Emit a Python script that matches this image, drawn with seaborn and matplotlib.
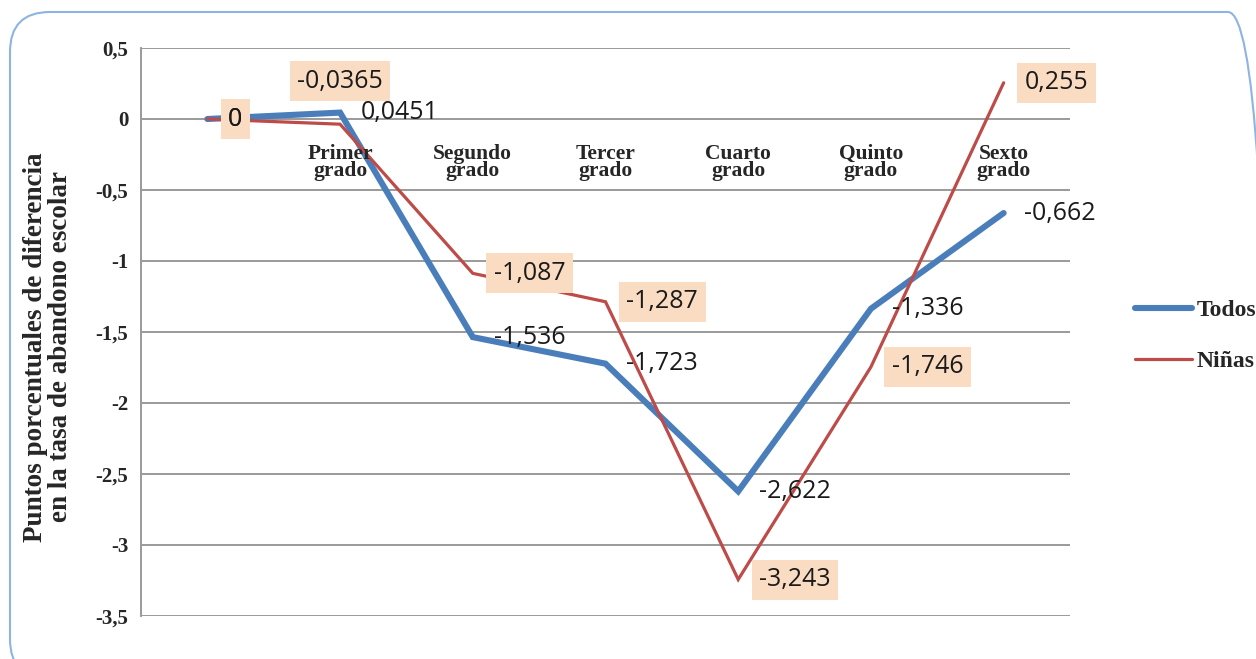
import matplotlib
matplotlib.use("Agg")
import matplotlib.pyplot as plt
import seaborn as sns
import pandas as pd
from matplotlib.patches import FancyBboxPatch
from matplotlib.transforms import IdentityTransform

# Data: difference in school-dropout rate (percentage points) by grade
grados = ["", "Primer\ngrado", "Segundo\ngrado", "Tercer\ngrado",
          "Cuarto\ngrado", "Quinto\ngrado", "Sexto\ngrado"]
todos = [0, 0.0451, -1.536, -1.723, -2.622, -1.336, -0.662]
ninas = [0, -0.0365, -1.087, -1.287, -3.243, -1.746, 0.255]
series = ["Todos", "Niñas"]
y_ticks = [0.5, 0, -0.5, -1, -1.5, -2, -2.5, -3, -3.5]
y_title = "Puntos porcentuales de diferencia\nen la tasa de abandono escolar"

colors = {"Todos": "#4A7EBB", "Niñas": "#BE4B48"}
widths = {"Todos": 4.4, "Niñas": 2.3}
box_color = "#FADCC3"
grid_color = "#9A9A9A"

sns.set_theme(style="white")
plt.rcParams["font.family"] = ["Liberation Serif", "DejaVu Serif"]
plt.rcParams["axes.unicode_minus"] = False

df = pd.DataFrame({
    "pos": list(range(len(grados))) * 2,
    "valor": todos + ninas,
    "serie": ["Todos"] * len(todos) + ["Niñas"] * len(ninas),
})

W, H = 1256, 659
fig = plt.figure(figsize=(W / 100, H / 100), dpi=100)
ax = fig.add_axes([141 / W, 1 - 616 / H, (1070 - 141) / W, (616 - 48) / H])

sns.lineplot(data=df, x="pos", y="valor", hue="serie", hue_order=series,
             palette=colors, size="serie", sizes=widths, size_order=series,
             sort=False, legend=False, ax=ax)
for ln in ax.lines:
    ln.set_solid_capstyle("round")
    ln.set_solid_joinstyle("miter")

ax.set_xlim(-0.5, len(grados) - 0.5)
ax.set_ylim(-3.5, 0.5)
ax.set_yticks(y_ticks)
ax.set_yticklabels([f"{v:g}".replace(".", ",") for v in y_ticks],
                   fontsize=15, fontweight="bold")
ax.tick_params(axis="y", length=0, pad=9)
ax.set_xticks([])
ax.set_xlabel("")
ax.set_ylabel("")
for v in y_ticks:
    ax.axhline(v, color=grid_color, lw=1.4, zorder=0.5)
for s in ["top", "right", "bottom"]:
    ax.spines[s].set_visible(False)
ax.spines["left"].set_color(grid_color)
ax.spines["left"].set_linewidth(1.4)

# Category labels sit just below the zero line
for i, lab in enumerate(grados):
    ax.annotate(lab, (i, 0), xytext=(0, -18), textcoords="offset points",
                ha="center", va="top", fontsize=15.5, fontweight="bold",
                linespacing=0.8, zorder=4)

label_family = ["Open Sans", "DejaVu Sans"]
label_size = 18

def fmt(v):
    return f"{v:g}".replace(".", ",")

# Niñas labels in shaded boxes
for i, v in enumerate(ninas):
    if i == 1:
        off, ha = (0, 31), "center"
    else:
        off, ha = (15, 0), "left"
    ax.annotate(fmt(v), (i, v), xytext=off, textcoords="offset points",
                ha=ha, va="center", family=label_family, fontsize=label_size,
                color="#1a1a1a",
                bbox=dict(boxstyle="square,pad=0.3", fc=box_color, ec="none"),
                zorder=5)

# Todos labels, plain
for i, v in enumerate(todos):
    ax.annotate(fmt(v), (i, v), xytext=(15, 0), textcoords="offset points",
                ha="left", va="center", family=label_family,
                fontsize=label_size, color="#1a1a1a", zorder=6)

fig.text(48 / W, 1 - 347 / H, y_title, rotation=90, ha="center", va="center",
         fontsize=19.5, fontweight="bold", linespacing=0.95,
         multialignment="center")

handles = ax.lines[:2]
ax.legend(handles, series, loc="center left",
          bbox_to_anchor=(1135 / W, 1 - 336 / H), bbox_transform=fig.transFigure,
          frameon=False, borderpad=0, borderaxespad=0, handlelength=2.4,
          handletextpad=0.2, labelspacing=1.25,
          prop={"weight": "bold", "size": 17, "family": ["Liberation Serif"]})

# Rounded outer frame, drawn in pixel coordinates
frame = FancyBboxPatch((10, -20), 1258, H - 12 + 20,
                       boxstyle="round,pad=0,rounding_size=40",
                       transform=IdentityTransform(), fc="none", ec="#8DB4E2",
                       lw=1.5, zorder=0)
fig.patches.append(frame)

fig.savefig("out.png", dpi=100)
